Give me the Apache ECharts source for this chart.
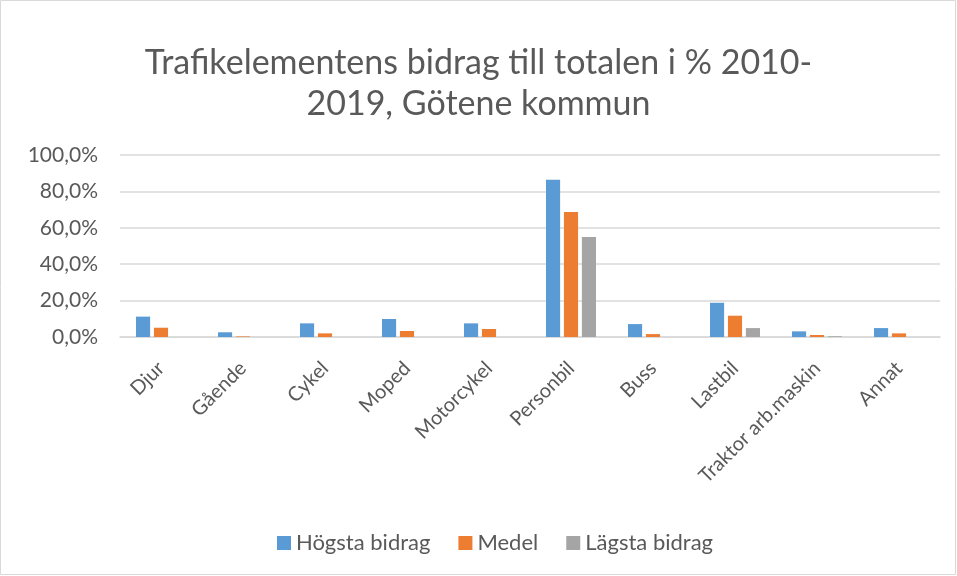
<!DOCTYPE html>
<html>
<head>
<meta charset="utf-8">
<script src="https://cdn.jsdelivr.net/npm/echarts@6/dist/echarts.min.js"></script>
<style>
  html, body { margin: 0; padding: 0; background: #fff; }
  #chart { width: 957px; height: 576px; }
</style>
</head>
<body>
<div id="chart"></div>
<script>
// kategorier och värden (andel i %)
const categories = ['Djur', 'Gående', 'Cykel', 'Moped', 'Motorcykel', 'Personbil', 'Buss', 'Lastbil', 'Traktor arb.maskin', 'Annat'];
const hogsta = [11.2, 2.6, 7.5, 9.9, 7.5, 86.4, 7.1, 18.8, 3.1, 4.9];
const medel = [5.1, 0.3, 2.0, 3.3, 4.4, 68.7, 1.6, 11.7, 1.1, 2.0];
const lagsta = [0, 0, 0, 0, 0, 54.9, 0, 4.9, 0.4, 0];
const seriesNames = ['Högsta bidrag', 'Medel', 'Lägsta bidrag'];
const colors = ['#5b9bd5', '#ed7d31', '#a5a5a5'];

const font = 'Lato, "Open Sans", sans-serif';
const textColor = '#595959';

let chart = echarts.init(document.getElementById('chart'));

let option = {
  animation: false,
  color: colors,
  textStyle: { fontFamily: font, color: textColor },
  title: {
    text: 'Trafikelementens bidrag till totalen i % 2010-\n2019, Götene kommun',
    left: 'center',
    top: 38,
    textStyle: {
      fontFamily: font,
      fontSize: 34,
      fontWeight: 'normal',
      color: textColor,
      lineHeight: 41
    }
  },
  graphic: [{
    type: 'rect',
    shape: { x: 0.5, y: 0.5, width: 955, height: 574 },
    style: { fill: 'none', stroke: '#d9d9d9', lineWidth: 1 },
    silent: true
  }],
  legend: {
    bottom: 17,
    left: 272,
    itemWidth: 14,
    itemHeight: 14,
    itemGap: 28,
    icon: 'rect',
    textStyle: { fontFamily: font, fontSize: 22, color: textColor }
  },
  grid: {
    left: 120,
    right: 17,
    top: 155,
    bottom: 239
  },
  xAxis: {
    type: 'category',
    data: categories,
    axisTick: { show: false },
    axisLine: { lineStyle: { color: '#d9d9d9', width: 1.5 } },
    axisLabel: {
      rotate: 45,
      interval: 0,
      margin: 28,
      fontFamily: font,
      fontSize: 20,
      color: textColor
    }
  },
  yAxis: {
    type: 'value',
    min: 0,
    max: 100,
    interval: 20,
    axisLine: { show: false },
    axisTick: { show: false },
    splitLine: { lineStyle: { color: '#d9d9d9', width: 1.5 } },
    axisLabel: {
      fontFamily: font,
      fontSize: 21,
      color: textColor,
      margin: 22,
      formatter: v => v.toFixed(1).replace('.', ',') + '%'
    }
  },
  series: [
    { name: seriesNames[0], type: 'bar', data: hogsta, barGap: '27%', barCategoryGap: '39%' },
    { name: seriesNames[1], type: 'bar', data: medel },
    { name: seriesNames[2], type: 'bar', data: lagsta }
  ]
};

option && chart.setOption(option);
</script>
</body>
</html>
